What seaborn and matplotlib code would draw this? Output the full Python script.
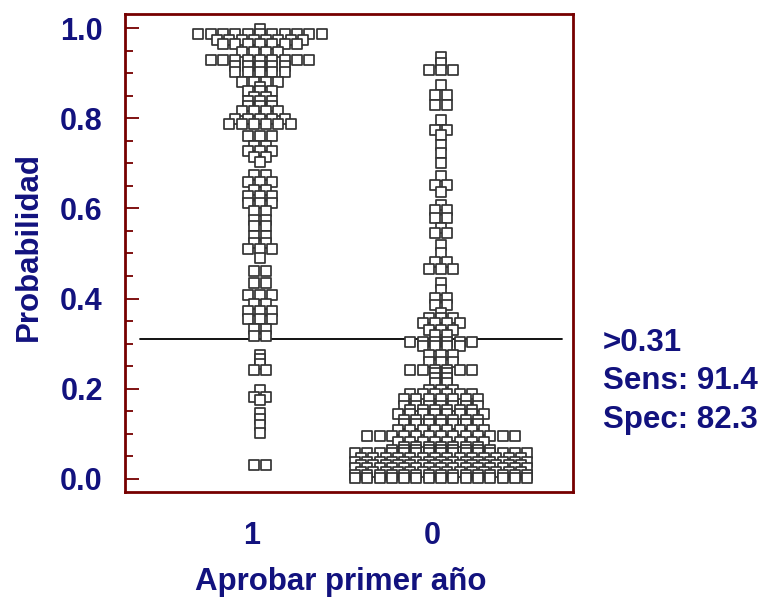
import numpy as np
import pandas as pd
import matplotlib
matplotlib.use("Agg")
import matplotlib.pyplot as plt
import seaborn as sns
from matplotlib.transforms import ScaledTranslation
from matplotlib.ticker import MultipleLocator

# ---------------- data ----------------
groups = ["1", "0"]

# group "1": distinct probability levels and how many cases sit on each
g1_values = [0.998, 0.987, 0.974, 0.966, 0.948, 0.930, 0.917, 0.902, 0.881, 0.870,
             0.860, 0.848, 0.838, 0.828, 0.816, 0.799, 0.787, 0.760, 0.738, 0.728,
             0.715, 0.702, 0.674, 0.658, 0.642, 0.628, 0.613, 0.594, 0.575, 0.560,
             0.538, 0.523, 0.510, 0.490, 0.462, 0.434, 0.408, 0.388, 0.372, 0.354,
             0.333, 0.316, 0.275, 0.265, 0.255, 0.241, 0.198, 0.181, 0.175, 0.145,
             0.133, 0.120, 0.101, 0.030]
g1_counts = [1, 11, 8, 7, 4, 9, 5, 5, 4, 1,
             3, 2, 3, 3, 4, 5, 6, 3, 2, 3,
             2, 1, 2, 3, 2, 3, 3, 2, 2, 2,
             2, 2, 3, 1, 2, 2, 3, 2, 3, 3,
             2, 2, 1, 1, 1, 2, 1, 2, 1, 1,
             1, 1, 1, 2]

# group "0"
g0_values = [0.936, 0.922, 0.907, 0.874, 0.852, 0.830, 0.796, 0.774, 0.763, 0.741,
             0.723, 0.700, 0.672, 0.652, 0.636, 0.608, 0.597, 0.578, 0.556, 0.545,
             0.519, 0.500, 0.482, 0.465, 0.434, 0.419, 0.401, 0.386, 0.367, 0.356,
             0.345, 0.330, 0.320, 0.304, 0.294, 0.275, 0.260, 0.241, 0.235, 0.224,
             0.213, 0.197, 0.188, 0.177, 0.161, 0.152, 0.144, 0.131, 0.121, 0.108,
             0.094, 0.082, 0.071, 0.064, 0.056, 0.045, 0.038, 0.030, 0.023, 0.016,
             0.009, 0.002]
g0_counts = [1, 1, 3, 1, 2, 2, 1, 2, 1, 1,
             1, 1, 1, 2, 1, 1, 2, 2, 1, 2,
             1, 1, 2, 3, 1, 1, 2, 2, 1, 3,
             4, 3, 2, 6, 4, 3, 3, 6, 2, 2,
             2, 3, 6, 7, 7, 6, 8, 7, 7, 8,
             13, 8, 7, 9, 15, 14, 15, 14, 15, 14,
             15, 15]

threshold = 0.31
sens = 91.4
spec = 82.3
x_title = "Aprobar primer año"
y_title = "Probabilidad"
y_ticks = [0.0, 0.2, 0.4, 0.6, 0.8, 1.0]
y_ticklabels = ["0.0", "0.2", "0.4", "0.6", "0.8", "1.0"]

# ---------------- styling ----------------
sns.set_style("white")
plt.rcParams["font.family"] = ["Liberation Sans", "DejaVu Sans"]
plt.rcParams["font.weight"] = "bold"
NAVY = "#12127e"
FRAME = "#760000"
EDGE = "#333333"
FS = 22

# build a long table: dots on the same level are spread sideways around the group centre
STEP = 0.068
recs = []
for gi, (vals, cnts) in enumerate([(g1_values, g1_counts), (g0_values, g0_counts)]):
    for v, n in zip(vals, cnts):
        offs = (np.arange(n) - (n - 1) / 2.0) * STEP
        for o in offs:
            recs.append({"group": groups[gi], "xpos": gi + o, "prob": v})
df = pd.DataFrame(recs).sort_values("prob", ascending=False, kind="stable")

fig = plt.figure(figsize=(7.64, 5.97), dpi=100)
ax = fig.add_axes([125 / 764, 1 - 492 / 597, 448 / 764, 478 / 597])

sns.scatterplot(data=df, x="xpos", y="prob", marker="s", s=42, color="white",
                edgecolor=EDGE, linewidth=1.25, ax=ax, legend=False, zorder=3)

ax.axhline(threshold, xmin=15 / 448, xmax=437 / 448, color="black", lw=1.3, zorder=2)

ax.set_xlim(-0.746, 1.729)
ax.set_ylim(-0.0295, 1.0316)

for sp in ax.spines.values():
    sp.set_visible(True)
    sp.set_color(FRAME)
    sp.set_linewidth(2.0)

ax.set_yticks(y_ticks)
ax.set_yticklabels(y_ticklabels)
ax.yaxis.set_minor_locator(MultipleLocator(0.05))
ax.tick_params(axis="y", which="major", direction="in", length=10, width=1.3,
               color=FRAME, labelsize=FS, labelcolor=NAVY, pad=16, left=True, right=False)
ax.tick_params(axis="y", which="minor", direction="in", length=5.5, width=1.3,
               color=FRAME, left=True, right=False)

ax.set_xticks([0, 1])
ax.set_xticklabels(groups)
ax.tick_params(axis="x", length=0, labelsize=FS, labelcolor=NAVY, pad=21)
shift = ScaledTranslation(-8.5 / 100, 0, fig.dpi_scale_trans)
for lbl in ax.get_xticklabels():
    lbl.set_transform(lbl.get_transform() + shift)

ax.set_xlabel(x_title, fontsize=FS + 0.5, color=NAVY, fontweight="bold")
ax.set_ylabel(y_title, fontsize=FS + 0.5, color=NAVY, fontweight="bold")
ax.xaxis.set_label_coords(0.482, -0.156)
ax.yaxis.set_label_coords(-0.18, 0.513)

tx = 603 / 764
for txt, ypx in [(f">{threshold:.2f}", 343), (f"Sens: {sens}", 381), (f"Spec: {spec}", 420)]:
    fig.text(tx, 1 - ypx / 597, txt, ha="left", va="center", fontsize=FS + 0.5,
             color=NAVY, fontweight="bold")

fig.savefig("out.png", dpi=100)
